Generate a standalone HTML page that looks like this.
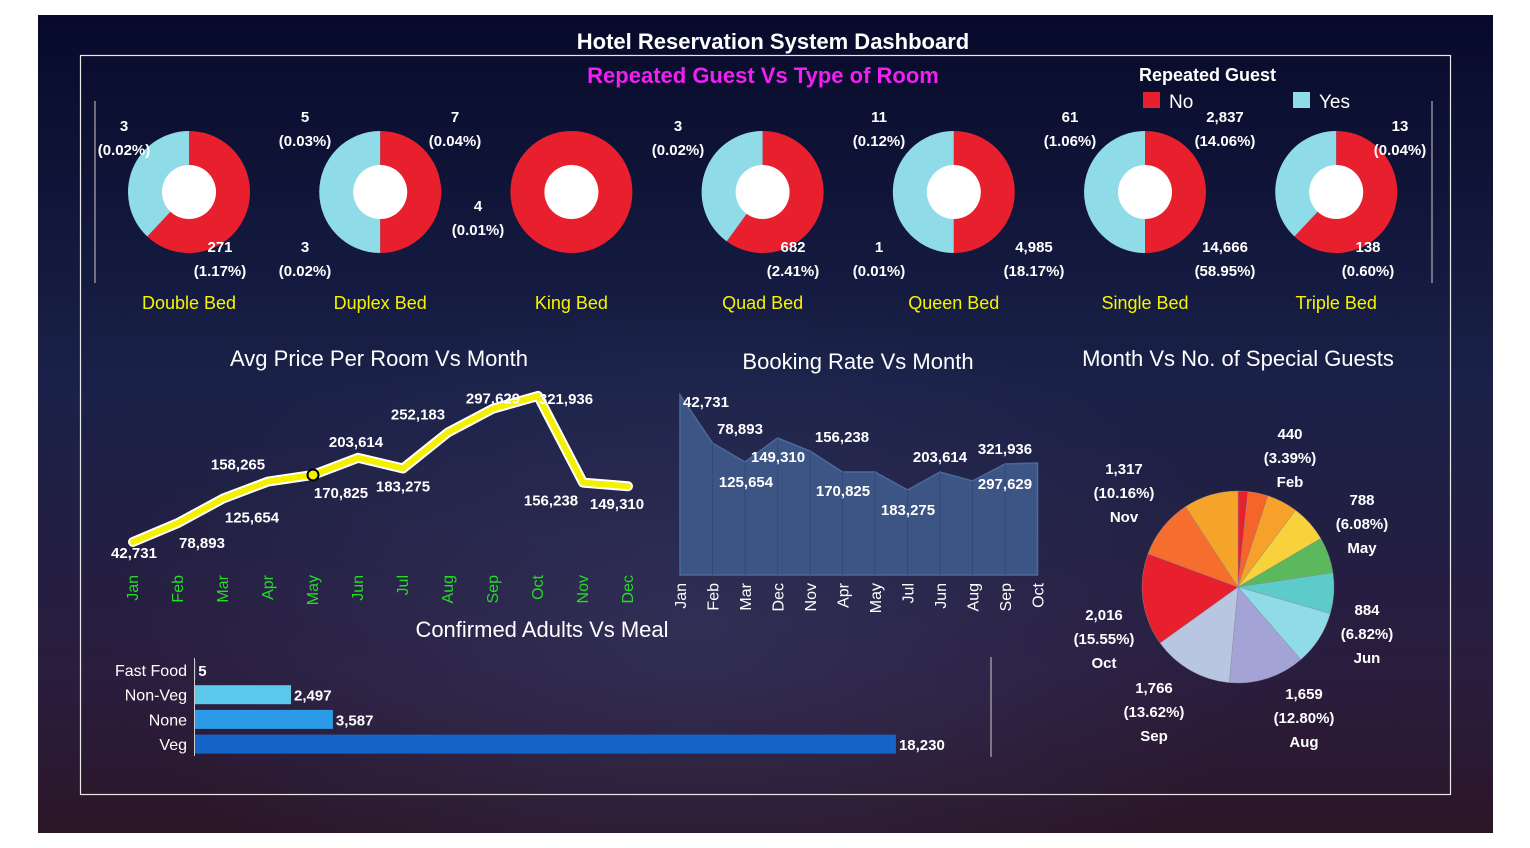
<!DOCTYPE html>
<html><head><meta charset="utf-8"><style>
html,body{margin:0;padding:0;background:#fff;}
svg{display:block;font-family:"Liberation Sans",sans-serif;}
.w{fill:#fff;font-weight:bold;font-size:15px;text-anchor:middle;}
.y{fill:#f5f500;font-size:18px;text-anchor:middle;}
.t{fill:#fff;font-size:22px;text-anchor:middle;}
</style></head><body>
<svg id="s" width="1530" height="848" viewBox="0 0 1530 848">
<defs>
<linearGradient id="bg" x1="0" y1="0" x2="0" y2="1">
<stop offset="0" stop-color="#070a2a"/><stop offset="0.45" stop-color="#1a2148"/><stop offset="0.8" stop-color="#2a1d3e"/><stop offset="1" stop-color="#2b1628"/></linearGradient>
<radialGradient id="rg" cx="0.45" cy="0.75" r="0.4"><stop offset="0" stop-color="#3a3f6a" stop-opacity="0.5"/><stop offset="1" stop-color="#3a3f6a" stop-opacity="0"/></radialGradient>
</defs>
<rect x="38" y="15" width="1455" height="818" fill="url(#bg)"/>
<rect x="38" y="15" width="1455" height="818" fill="url(#rg)"/>
<rect x="80.5" y="55.5" width="1370" height="739" fill="none" stroke="#e8e8e8" stroke-width="1.2"/>
<text x="773" y="49" class="t" font-weight="bold">Hotel Reservation System Dashboard</text>
<text x="763" y="83" class="t" style="fill:#f020f0" font-weight="bold">Repeated Guest Vs Type of Room</text>
<g>
<text x="1139" y="81" fill="#fff" font-size="18" font-weight="bold">Repeated Guest</text>
<rect x="1143" y="92" width="17" height="16" fill="#e8202e"/>
<text x="1169" y="108" fill="#fff" font-size="19">No</text>
<rect x="1293" y="92" width="17" height="16" fill="#8fdbe8"/>
<text x="1319" y="108" fill="#fff" font-size="19">Yes</text>
</g>
<line x1="95" y1="101" x2="95" y2="283" stroke="#ccc"/>
<line x1="1432" y1="101" x2="1432" y2="283" stroke="#ccc"/>
<g id="donuts"></g>
<g>
<text class="w" x="124" y="131">3</text><text class="w" x="124" y="155">(0.02%)</text>
<text class="w" x="220" y="252">271</text><text class="w" x="220" y="276">(1.17%)</text>
<text class="w" x="305" y="122">5</text><text class="w" x="305" y="146">(0.03%)</text>
<text class="w" x="455" y="122">7</text><text class="w" x="455" y="146">(0.04%)</text>
<text class="w" x="478" y="211">4</text><text class="w" x="478" y="235">(0.01%)</text>
<text class="w" x="305" y="252">3</text><text class="w" x="305" y="276">(0.02%)</text>
<text class="w" x="678" y="131">3</text><text class="w" x="678" y="155">(0.02%)</text>
<text class="w" x="793" y="252">682</text><text class="w" x="793" y="276">(2.41%)</text>
<text class="w" x="879" y="122">11</text><text class="w" x="879" y="146">(0.12%)</text>
<text class="w" x="879" y="252">1</text><text class="w" x="879" y="276">(0.01%)</text>
<text class="w" x="1034" y="252">4,985</text><text class="w" x="1034" y="276">(18.17%)</text>
<text class="w" x="1070" y="122">61</text><text class="w" x="1070" y="146">(1.06%)</text>
<text class="w" x="1225" y="122">2,837</text><text class="w" x="1225" y="146">(14.06%)</text>
<text class="w" x="1225" y="252">14,666</text><text class="w" x="1225" y="276">(58.95%)</text>
<text class="w" x="1400" y="131">13</text><text class="w" x="1400" y="155">(0.04%)</text>
<text class="w" x="1368" y="252">138</text><text class="w" x="1368" y="276">(0.60%)</text>
</g>
<text x="379" y="366" class="t">Avg Price Per Room Vs Month</text>
<text x="858" y="369" class="t">Booking Rate Vs Month</text>
<text x="1238" y="366" class="t">Month Vs No. of Special Guests</text>
<text x="542" y="637" class="t">Confirmed Adults Vs Meal</text>
<g id="line"></g><g id="area"></g><g id="pie"></g><g id="bars"></g>
<line x1="991" y1="657" x2="991" y2="757" stroke="#ccc"/>
</svg>
<script>
// Donut data
const roomTypes=["Double Bed","Duplex Bed","King Bed","Quad Bed","Queen Bed","Single Bed","Triple Bed"];
const noShare=[0.62,0.5,1.0,0.6,0.5,0.5,0.62];
// Line chart data
const months=["Jan","Feb","Mar","Apr","May","Jun","Jul","Aug","Sep","Oct","Nov","Dec"];
const avgPrice=[42731,78893,125654,158265,170825,203614,183275,252183,297629,321936,156238,149310];
// Area chart data
const areaMonths=["Jan","Feb","Mar","Dec","Nov","Apr","May","Jul","Jun","Aug","Sep","Oct"];
const bookingRate=[180,132,113,137,124,103,103,85,103,94,111,112];
const areaLabels=["42,731","78,893","125,654","149,310","156,238","170,825","183,275","203,614","297,629","321,936"];
// Pie data
const pieMonths=["Jan","Feb","Mar","Apr","May","Jun","Jul","Aug","Sep","Oct","Nov","Dec"];
const specialGuests=[214,440,675,817,788,884,1193,1659,1766,2016,1317,1193];
// Bar data
const meals=["Fast Food","Non-Veg","None","Veg"];
const adults=[5,2497,3587,18230];

const NS="http://www.w3.org/2000/svg";
function mk(tag,attrs,parent,txt){const e=document.createElementNS(NS,tag);for(const k in attrs)e.setAttribute(k,attrs[k]);if(txt!==undefined)e.textContent=txt;parent.appendChild(e);return e;}
function fmt(v){return v.toLocaleString("en-US");}

// Donuts
const dg=document.getElementById("donuts");
roomTypes.forEach((n,i)=>{
 const cx=189+i*191.2,cy=192,R=61,r=27;
 const f=noShare[i];
 const arc=(a0,a1,col,name)=>{
  if(a1-a0>=0.9999){const c=mk("circle",{cx,cy,r:R,fill:col},dg);return;}
  const p=a=>[cx+R*Math.sin(a*2*Math.PI),cy-R*Math.cos(a*2*Math.PI)];
  const s=p(a0),e=p(a1);const lg=(a1-a0)>0.5?1:0;
  const el=mk("path",{d:`M${cx},${cy}L${s[0]},${s[1]}A${R},${R} 0 ${lg} 1 ${e[0]},${e[1]}Z`,fill:col},dg);
  
  
 };
 const slug=n.toLowerCase().replace(/ /g,'-');
 arc(0,f,"#e8202e",slug+"-no-slice");
 if(f<1)arc(f,1,"#8fdbe8",slug+"-yes-slice");
 mk("circle",{cx,cy,r,fill:"#fff"},dg);
 const t=mk("text",{x:cx,y:309,class:"y"},dg,n);
 
 
});

// Line chart
const lg=document.getElementById("line");
const lx=i=>133+i*45, ly=v=>564.3-v*0.000523;
const pts=avgPrice.map((v,i)=>lx(i)+","+ly(v)).join(" ");
mk("polyline",{points:pts,fill:"none",stroke:"#fff",'stroke-width':10,'stroke-linejoin':"round",'stroke-linecap':"round"},lg);
const pl=mk("polyline",{points:pts,fill:"none",stroke:"#f5f000",'stroke-width':6,'stroke-linejoin':"round",'stroke-linecap':"round"},lg);


const lblOff=[[1,16],[24,25],[29,24],[-30,-12],[28,23],[-2,-11],[0,23],[-30,-13],[0,-5],[28,8],[-32,23],[-11,23]];
avgPrice.forEach((v,i)=>{
 const t=mk("text",{x:lx(i)+lblOff[i][0],y:ly(v)+lblOff[i][1],class:"w"},lg,fmt(v));
 
 
 const m=mk("text",{transform:`translate(${lx(i)+5},${575}) rotate(-90)`,fill:"#22dd22",'font-size':16,'text-anchor':"end"},lg,months[i]);
 
 
});
const mc=mk("circle",{cx:lx(4),cy:ly(avgPrice[4]),r:5.5,fill:"#f5f000",stroke:"#000",'stroke-width':2},lg);



// Area chart
const ag=document.getElementById("area");
const ax=i=>680+i*32.5, ay=v=>575-v;
let d=`M${ax(0)},575`;bookingRate.forEach((v,i)=>d+=`L${ax(i)},${ay(v)}`);d+=`L${ax(11)},575Z`;
const ap=mk("path",{d,fill:"#3d5584",stroke:"#4a6a9c",'stroke-width':1.5},ag);


bookingRate.forEach((v,i)=>{
 if(i>0&&i<11)mk("line",{x1:ax(i),y1:ay(v),x2:ax(i),y2:575,stroke:"#34487a",'stroke-width':1},ag);
 const t=mk("text",{transform:`translate(${ax(i)+6},${583}) rotate(-90)`,fill:"#fff",'font-size':16,'text-anchor':"end"},ag,areaMonths[i]);
 
 
});
const apos=[[706,407],[740,434],[746,487],[778,462],[842,442],[843,496],[908,515],[940,462],[1005,489],[1005,454]];
areaLabels.forEach((s,i)=>{const t=mk("text",{x:apos[i][0],y:apos[i][1],class:"w"},ag,s);
 
 });

// Pie
const pg=document.getElementById("pie");
const pcol=["#e8202e","#f5652a","#f5a12a","#f8d23a","#5cb85c","#5ecbcb","#8fdbe8","#a3a3d6","#b8c6e2","#e8202e","#f56e2e","#f5a42a"];
const tot=specialGuests.reduce((a,b)=>a+b,0);
const pcx=1238,pcy=587,PR=96;let acc=0;
specialGuests.forEach((v,i)=>{
 const a0=acc/tot,a1=(acc+v)/tot;acc+=v;
 const p=a=>[pcx+PR*Math.sin(a*2*Math.PI),pcy-PR*Math.cos(a*2*Math.PI)];
 const s=p(a0),e=p(a1);
 const el=mk("path",{d:`M${pcx},${pcy}L${s[0]},${s[1]}A${PR},${PR} 0 ${(a1-a0)>0.5?1:0} 1 ${e[0]},${e[1]}Z`,fill:pcol[i],stroke:"#8a8a9a",'stroke-width':0.4},pg);
 
 
});
const plabs=[[1,1290,439],[4,1362,505],[5,1367,615],[7,1304,699],[8,1154,693],[9,1104,620],[10,1124,474]];
plabs.forEach(([i,x,y])=>{
 const v=specialGuests[i];
 const g=mk("g",{},pg);
 
 
 mk("text",{x,y,class:"w"},g,fmt(v));
 mk("text",{x,y:y+24,class:"w"},g,"("+(v/tot*100).toFixed(2)+"%)");
 mk("text",{x,y:y+48,class:"w"},g,pieMonths[i]);
});

// Bars
const bg=document.getElementById("bars");
const bx=v=>195+v*0.03845;
const bcol=["#5bc8ec","#5bc8ec","#2b9be8","#1565c8"];
mk("line",{x1:194.5,y1:658,x2:194.5,y2:756,stroke:"#ccc"},bg);
meals.forEach((m,i)=>{
 const yc=670+i*24.7;
 const t=mk("text",{x:187,y:yc+6,fill:"#fff",'font-size':16,'text-anchor':"end"},bg,m);
 
 
 const r=mk("rect",{x:195,y:yc-9.5,width:Math.max(0,bx(adults[i])-195),height:19,fill:bcol[i]},bg);
 
 
 const vt=mk("text",{x:bx(adults[i])+3,y:yc+6,fill:"#fff",'font-size':15,'font-weight':"bold"},bg,fmt(adults[i]));
 
 
});
</script>
</body></html>
